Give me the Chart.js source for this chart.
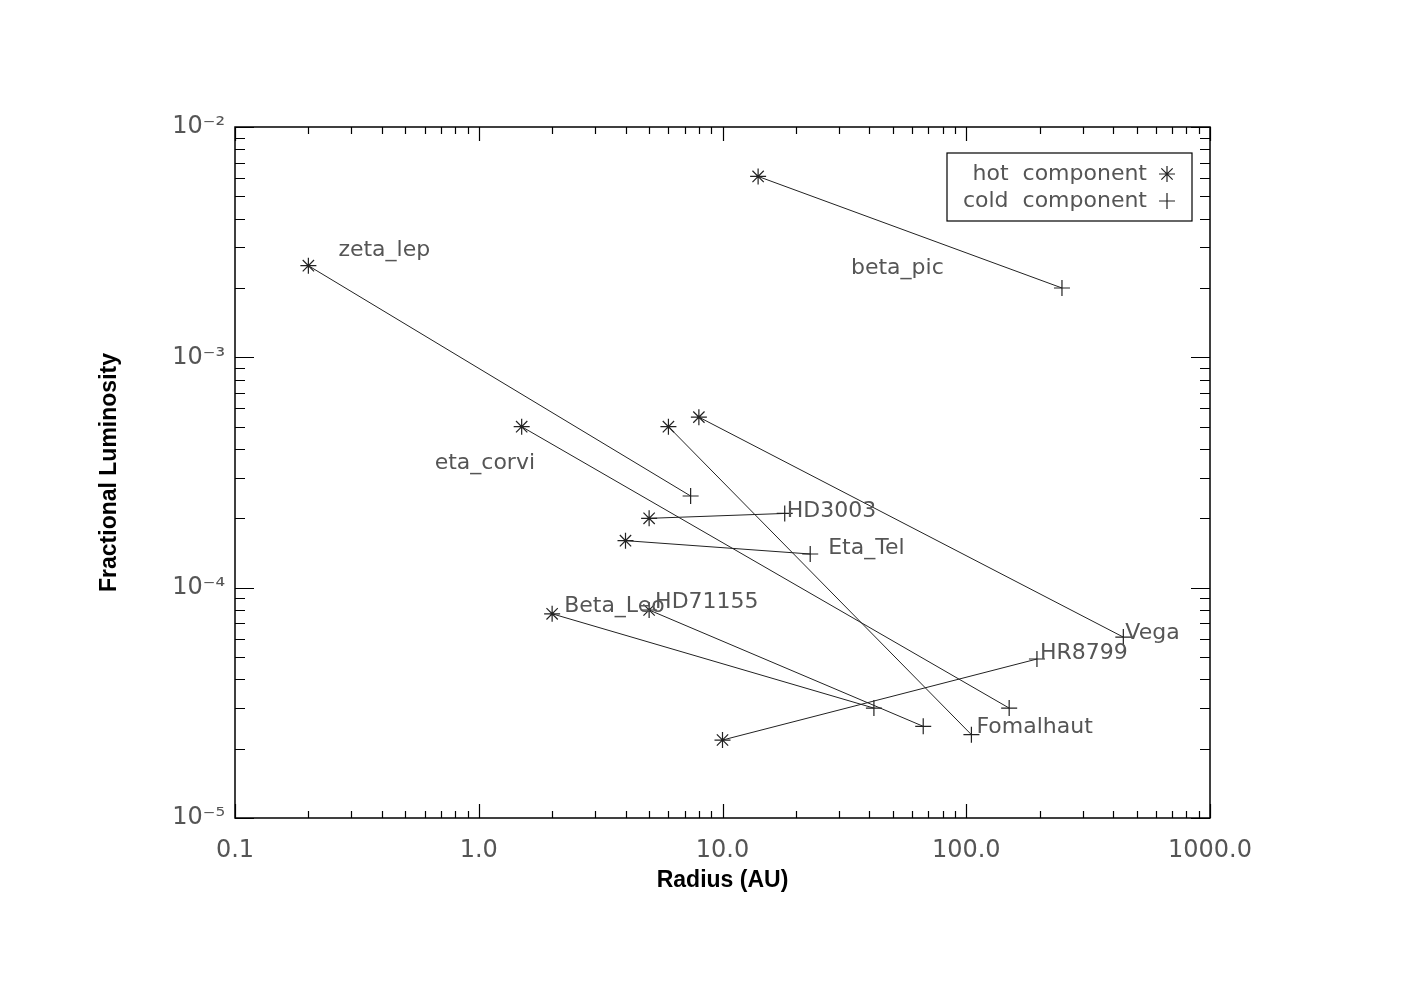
<!DOCTYPE html>
<html>
<head>
<meta charset="utf-8">
<script src="https://cdn.jsdelivr.net/npm/chart.js@4/dist/chart.umd.min.js"></script>
<style>
  html, body { margin: 0; padding: 0; background: #fff; }
  #wrap { width: 1422px; height: 1000px; }
</style>
</head>
<body>
<div id="wrap"><canvas id="disks"></canvas></div>
<script>
// stars, hot (asterisk) and cold (plus) components
const stars   = ['beta_pic', 'zeta_lep', 'eta_corvi', 'Fomalhaut', 'Vega', 'HD3003', 'Eta_Tel', 'Beta_Leo', 'HD71155', 'HR8799'];
const hotR    = [14.0, 0.2, 1.5, 6.0, 8.0, 5.0, 4.0, 2.0, 5.0, 10.0];
const hotL    = [6.1e-3, 2.5e-3, 5.0e-4, 5.0e-4, 5.5e-4, 2.0e-4, 1.6e-4, 7.7e-5, 8.0e-5, 2.18e-5];
const coldR   = [247, 7.4, 150, 105, 441, 18.0, 22.9, 41.8, 66.6, 195];
const coldL   = [2.0e-3, 2.5e-4, 3.0e-5, 2.3e-5, 6.1e-5, 2.1e-4, 1.4e-4, 3.0e-5, 2.5e-5, 4.9e-5];
const xTicks  = [0.1, 1, 10, 100, 1000];
const xLabels = ['0.1', '1.0', '10.0', '100.0', '1000.0'];
const yTicks  = [1e-5, 1e-4, 1e-3, 1e-2];
const yLabels = ['10\u207B\u2075', '10\u207B\u2074', '10\u207B\u00B3', '10\u207B\u00B2'];

// where each name sits: anchor point (0 hot, 1 cold) + pixel shift
const labelPos = {
  beta_pic:  [1, -211, -20],
  zeta_lep:  [0, 30, -15],
  eta_corvi: [0, -87, 37],
  Fomalhaut: [1, 5, -7],
  Vega:      [1, 2, -4],
  HD3003:    [1, 2, -2],
  Eta_Tel:   [1, 18, -6],
  Beta_Leo:  [0, 12, -8],
  HD71155:   [0, 6, -8],
  HR8799:    [1, 3, -6]
};

const ink = '#222';
const txt = '#555';
const thinFont = "22px 'DejaVu Sans'";

const datasets = stars.map((s, i) => ({
  label: s,
  data: [{x: hotR[i], y: hotL[i]}, {x: coldR[i], y: coldL[i]}],
  showLine: true,
  borderColor: ink,
  borderWidth: 1,
  pointStyle: ['star', 'cross'],
  pointRadius: 8,
  pointBorderWidth: 1.2,
  pointBorderColor: ink,
  pointBackgroundColor: ink
}));

// box + inward ticks on all four sides
const frame = {
  id: 'frame',
  afterDraw(chart) {
    const {ctx, chartArea: a, scales: {x, y}} = chart;
    ctx.save();
    ctx.strokeStyle = '#000';
    ctx.lineWidth = 1.5;
    ctx.strokeRect(a.left, a.top, a.right - a.left, a.bottom - a.top);
    ctx.lineWidth = 1.2;
    ctx.beginPath();
    for (let k = -1; k <= 3; k++) {
      for (let m = 1; m <= 9; m++) {
        const v = m * Math.pow(10, k);
        if (v > 1000 * 1.0001) break;
        const px = Math.round(x.getPixelForValue(v)) + 0.5;
        const len = m === 1 ? 14 : 7;
        ctx.moveTo(px, a.bottom); ctx.lineTo(px, a.bottom - len);
        ctx.moveTo(px, a.top); ctx.lineTo(px, a.top + len);
      }
    }
    for (let k = -5; k <= -2; k++) {
      for (let m = 1; m <= 9; m++) {
        const v = m * Math.pow(10, k);
        if (v > 1e-2 * 1.0001) break;
        const py = Math.round(y.getPixelForValue(v)) + 0.5;
        const len = m === 1 ? 19 : 10;
        ctx.moveTo(a.left, py); ctx.lineTo(a.left + len, py);
        ctx.moveTo(a.right, py); ctx.lineTo(a.right - len, py);
      }
    }
    ctx.stroke();
    ctx.restore();
  }
};

// star names next to their points
const names = {
  id: 'names',
  afterDatasetsDraw(chart) {
    const {ctx} = chart;
    ctx.save();
    ctx.font = thinFont;
    ctx.fillStyle = txt;
    ctx.textBaseline = 'middle';
    ctx.textAlign = 'left';
    chart.data.datasets.forEach((ds, i) => {
      const p = labelPos[ds.label];
      const el = chart.getDatasetMeta(i).data[p[0]];
      ctx.fillText(ds.label, el.x + p[1], el.y + p[2]);
    });
    ctx.restore();
  }
};

function drawStar(ctx, cx, cy, r) {
  ctx.beginPath();
  ctx.moveTo(cx - r, cy); ctx.lineTo(cx + r, cy);
  ctx.moveTo(cx, cy - r); ctx.lineTo(cx, cy + r);
  const d = r * Math.SQRT1_2;
  ctx.moveTo(cx - d, cy - d); ctx.lineTo(cx + d, cy + d);
  ctx.moveTo(cx - d, cy + d); ctx.lineTo(cx + d, cy - d);
  ctx.stroke();
}
function drawPlus(ctx, cx, cy, r) {
  ctx.beginPath();
  ctx.moveTo(cx - r, cy); ctx.lineTo(cx + r, cy);
  ctx.moveTo(cx, cy - r); ctx.lineTo(cx, cy + r);
  ctx.stroke();
}

// boxed key in the upper right corner
const keyBox = {
  id: 'keyBox',
  afterDraw(chart) {
    const {ctx, chartArea: a} = chart;
    const left = a.right - 263, top = a.top + 26, w = 245, h = 68;
    ctx.save();
    ctx.strokeStyle = '#000';
    ctx.lineWidth = 1.2;
    ctx.strokeRect(left, top, w, h);
    ctx.font = thinFont;
    ctx.fillStyle = txt;
    ctx.textAlign = 'right';
    ctx.textBaseline = 'middle';
    ctx.fillText('hot  component', left + 200, top + 21);
    ctx.fillText('cold  component', left + 200, top + 48);
    ctx.strokeStyle = ink;
    ctx.lineWidth = 1.2;
    drawStar(ctx, left + 220, top + 21, 8);
    drawPlus(ctx, left + 220, top + 48, 8);
    ctx.restore();
  }
};

new Chart(document.getElementById('disks'), {
  type: 'scatter',
  data: { datasets },
  options: {
    responsive: true,
    maintainAspectRatio: false,
    animation: false,
    layout: { padding: { left: 0, top: 127, right: 212, bottom: 0 } },
    plugins: {
      legend: { display: false },
      tooltip: { enabled: false }
    },
    scales: {
      x: {
        type: 'logarithmic',
        min: 0.1,
        max: 1000,
        afterBuildTicks: s => { s.ticks = xTicks.map(v => ({value: v})); },
        afterFit: s => { s.height = 182; },
        grid: { display: false, drawTicks: false },
        border: { display: false },
        ticks: {
          padding: 18,
          color: txt,
          font: { family: 'DejaVu Sans', size: 24 },
          maxRotation: 0,
          autoSkip: false,
          callback: (v, i) => xLabels[i]
        },
        title: {
          display: true,
          text: 'Radius (AU)',
          color: '#000',
          font: { family: 'Liberation Sans', size: 23, weight: 'bold' },
          padding: { top: 0, bottom: 106 }
        }
      },
      y: {
        type: 'logarithmic',
        min: 1e-5,
        max: 1e-2,
        afterBuildTicks: s => { s.ticks = yTicks.map(v => ({value: v})); },
        afterFit: s => { s.width = 235; },
        grid: { display: false, drawTicks: false },
        border: { display: false },
        ticks: {
          padding: 10,
          color: txt,
          font: { family: 'DejaVu Sans', size: 24 },
          autoSkip: false,
          callback: (v, i) => yLabels[i]
        },
        title: {
          display: true,
          text: 'Fractional Luminosity',
          color: '#000',
          font: { family: 'Liberation Sans', size: 23, weight: 'bold' },
          padding: { top: 96, bottom: 0 }
        }
      }
    }
  },
  plugins: [frame, names, keyBox]
});
</script>
</body>
</html>
